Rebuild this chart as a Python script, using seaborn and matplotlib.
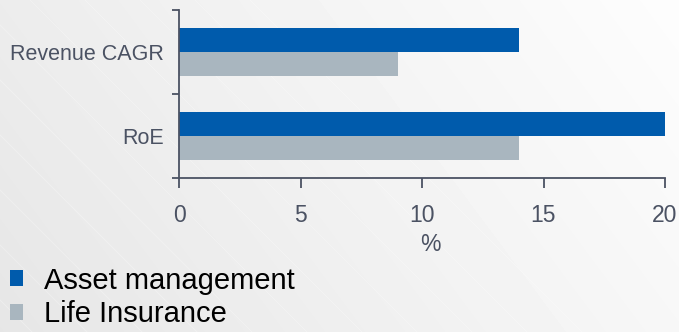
import numpy as np
import pandas as pd
import matplotlib
matplotlib.use("Agg")
import matplotlib.pyplot as plt
import seaborn as sns

# Data
categories = ["Revenue CAGR", "RoE"]
series_names = ["Asset management", "Life Insurance"]
asset_management = [14, 20]
life_insurance = [9, 14]
x_ticks = [0, 5, 10, 15, 20]
x_label = "%"

df = pd.DataFrame({
    "metric": categories * 2,
    "segment": [series_names[0]] * len(categories) + [series_names[1]] * len(categories),
    "value": asset_management + life_insurance,
})

BLUE = "#005bac"
GREY = "#a9b6bf"
INK = "#4b5263"

sns.set_theme(style="white")
plt.rcParams["font.family"] = ["Liberation Sans", "DejaVu Sans"]

W, H = 679, 332
fig = plt.figure(figsize=(W / 100, H / 100), dpi=100)

# Soft gradient backdrop (darker lower-left, near white upper-right) with faint streaks
bg = fig.add_axes([0, 0, 1, 1], zorder=-10)
yy, xx = np.mgrid[0:H, 0:W]
img = 0.902 + 0.066 * (xx / (W - 1)) + 0.024 * ((H - 1 - yy) / (H - 1))
bg.imshow(img, cmap="gray", vmin=0, vmax=1, extent=[0, W, 0, H],
          origin="upper", aspect="auto", interpolation="bilinear")
for x0 in range(-300, 300, 55):
    bg.plot([x0, x0 + 340], [H, H - 340], color="white", lw=0.6, alpha=0.3)
bg.set_xlim(0, W)
bg.set_ylim(0, H)
bg.axis("off")

# Main chart
ax = fig.add_axes([179 / W, 154 / H, 486 / W, 168 / H])
ax.patch.set_alpha(0)
sns.barplot(data=df, y="metric", x="value", hue="segment", orient="h",
            palette=[BLUE, GREY], width=0.571, saturation=1, linewidth=0,
            ax=ax)

ax.set_xlim(0, 20)
ax.set_ylim(1.5, -0.5)
for s in ("top", "right"):
    ax.spines[s].set_visible(False)
for s in ("left", "bottom"):
    ax.spines[s].set_color(INK)
    ax.spines[s].set_linewidth(1.3)

ax.set_xticks(x_ticks)
ax.set_xticklabels([str(v) for v in x_ticks])
ax.tick_params(axis="x", direction="out", length=7, width=1.3, color=INK,
               pad=12, labelsize=16.5, labelcolor=INK, bottom=True)
ax.tick_params(axis="y", which="major", length=0, pad=11,
               labelsize=15.5, labelcolor=INK)
ax.set_yticks([-0.5, 0.5, 1.5], minor=True)
ax.tick_params(axis="y", which="minor", direction="out", length=5, width=1.3,
               color=INK, left=True)

ax.set_ylabel("")
ax.set_xlabel(x_label, fontsize=16.5, color=INK)
ax.xaxis.set_label_coords((430 - 179) / 486, -0.33)

sns.move_legend(ax, loc="upper left", bbox_to_anchor=(10 / W, 0.197),
                bbox_transform=fig.transFigure, frameon=False, title=None,
                fontsize=21, handlelength=0.45, handleheight=0.45,
                handletextpad=0.7, labelspacing=0.2, borderpad=0,
                borderaxespad=0)
for txt in ax.get_legend().get_texts():
    txt.set_color("black")

fig.savefig("out.png", dpi=100)
